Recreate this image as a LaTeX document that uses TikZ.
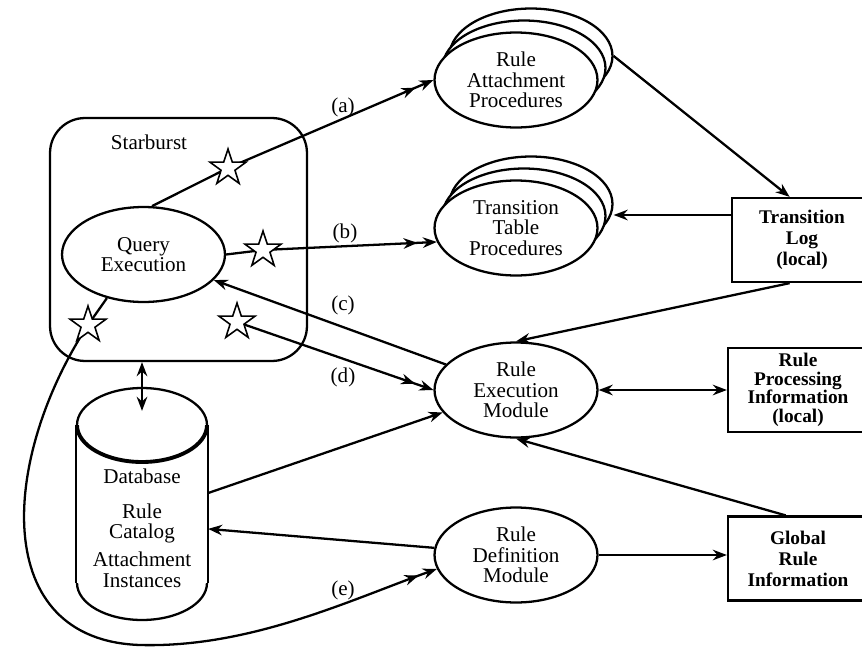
\documentclass[tikz,border=0pt]{standalone}
\usepackage{fontspec}
\setmainfont{Liberation Serif}
\usepackage{tikz}
\usepackage{xcolor}
\usetikzlibrary{shapes,arrows.meta,positioning,calc}

\begin{document}
\begin{tikzpicture}[x=0.02cm,y=-0.02cm,line width=1.3pt,
  font=\fontsize{12}{11.8}\selectfont,
  proc/.style={ellipse, draw, fill=white, align=center, minimum width=3.26cm, minimum height=1.9cm, inner sep=0pt},
  infobox/.style={rectangle, draw, align=center, font=\fontsize{11}{12}\selectfont\bfseries, minimum width=2.8cm, minimum height=1.68cm},
  capring/.style={ellipse, draw, minimum width=2.6cm, minimum height=1.48cm, inner sep=0pt},
  starmark/.style={star, star points=5, star point ratio=2.6, draw, fill=white, line width=0.9pt, minimum size=0.76cm, inner sep=0pt},
  onehead/.style={-{Stealth[length=8pt,width=6pt]}},
  twoheads/.style={{Stealth[length=8pt,width=6pt]}-{Stealth[length=8pt,width=6pt]}},
  manyhead/.style={-{Stealth[length=8pt,width=6pt,sep=3pt]Stealth[length=8pt,width=6pt]}}]
\useasboundingbox (0,0) rectangle (862,649);
\clip (0,0) rectangle (862,649);

\node[draw, rounded corners=0.7cm, minimum width=5.14cm, minimum height=4.86cm] (sb) at (178.5,239.5) {};
\node (sbname) at (149,142) {Starburst};
\node[proc] (qe) at (143.5,254.5) {Query\\Execution};

\node[proc] (rap3) at (531,56) {};
\node[proc] (rap2) at (524,68) {};
\node[proc] (rap) at (516,80) {Rule\\Attachment\\Procedures};
\node[proc] (ttp3) at (531,204) {};
\node[proc] (ttp2) at (524,216) {};
\node[proc] (ttp) at (516,228) {Transition\\Table\\Procedures};
\node[proc] (rem) at (516,390) {Rule\\Execution\\Module};
\node[proc] (rdm) at (516,555) {Rule\\Definition\\Module};

\node[infobox] (tl) at (802,240) {Transition\\Log\\(local)};
\node[infobox, font=\fontsize{11}{10.5}\selectfont\bfseries] (rpi) at (798,390) {Rule\\Processing\\Information\\(local)};
\node[infobox] (gri) at (798,558.5) {Global\\Rule\\Information};

% database cylinder
\node[minimum width=2.6cm, minimum height=4.66cm, inner sep=0pt] (db) at (142,503.5) {};
\node[capring] (dbtop) at (142,425) {};
\begin{scope}
  \clip (60,425) rectangle (224,480);
  \node[capring, line width=2.2pt] (dbrim) at (142,425) {};
\end{scope}
\begin{scope}
  \clip (60,583) rectangle (224,640);
  \node[capring] (dbbase) at (142,583) {};
\end{scope}
\draw (dbtop.west) -- (dbbase.west);
\draw (dbtop.east) -- (dbbase.east);
\node[align=center] (dbtext) at (142,528) {Database\\[8pt]Rule\\Catalog\\[4pt]Attachment\\Instances};

\coordinate (sa) at (228,168);
\coordinate (sbb) at (263,250);
\coordinate (sd) at (237,322);
\coordinate (se) at (88,325);
\coordinate (tlout) at ($(tl.west)+(0,-25)$);

\draw[manyhead] (qe.80) -- (sa) -- (rap.west);
\draw[manyhead] (qe.east) -- (sbb) -- (ttp.190);
\draw[onehead] (rem) -- (qe);
\draw[manyhead] (sd) -- (rem.west);
\draw[manyhead] (qe.-130) -- (se) .. controls (0,460) and (-10,640) .. (140,645) .. controls (250,648) and (350,600) .. (rdm.190);
\draw[onehead] (rap3.east) -- (tl.106);
\draw[onehead] (tlout) -- (tlout -| ttp3.east);
\draw[onehead] (tl.-106) -- (rem.north);
\draw[onehead] (gri.106) -- (rem.south);
\draw[twoheads] (rem.east) -- (rpi.west);
\draw[onehead] (rdm.east) -- (rdm.east -| gri.west);
\draw[onehead] (rdm.175) -- (db.-21);
\draw[onehead] (db.9) -- (rem.197);
\draw[twoheads] (db.north |- sb.south) -- ($(db.north)+(0,25)$);

\node (la) at (343,107) {(a)};
\node (lb) at (345,233) {(b)};
\node (lc) at (343,305) {(c)};
\node (ld) at (343,377) {(d)};
\node (le) at (343,590) {(e)};

\node[starmark] (stara) at (sa) {};
\node[starmark] (starb) at (sbb) {};
\node[starmark] (stard) at (sd) {};
\node[starmark] (stare) at (se) {};
\end{tikzpicture}
\end{document}
